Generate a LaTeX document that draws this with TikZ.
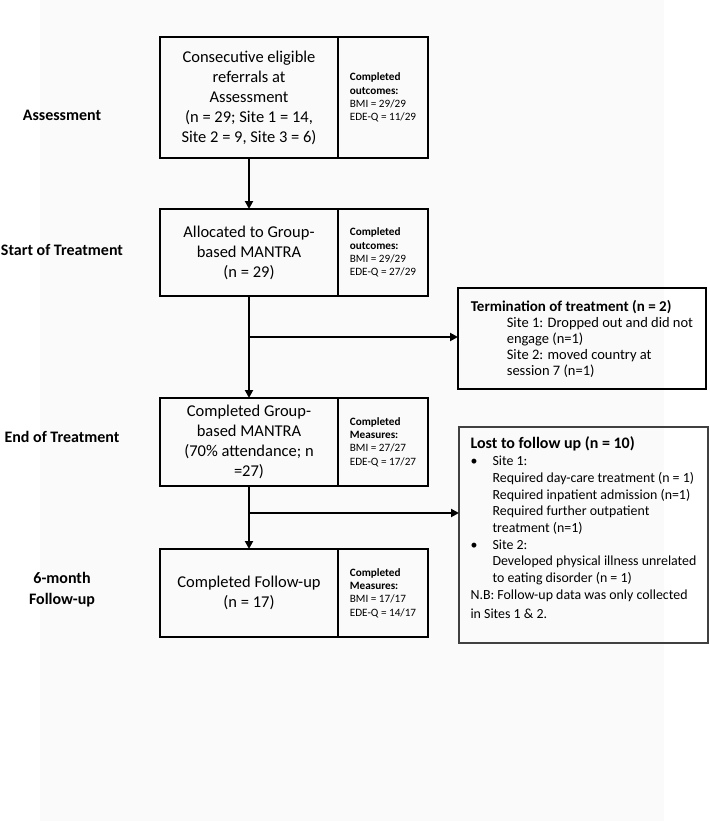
\documentclass[tikz,border=0pt]{standalone}
\usepackage{fontspec}
\setmainfont{Carlito}
\usetikzlibrary{positioning}
\usetikzlibrary{arrows.meta}
\definecolor{bggray}{HTML}{FAFAFA}
\newcommand{\ind}{\hspace*{36pt}}
\newcommand{\sub}{\hspace*{22pt}}
\newcommand{\bul}{\makebox[22pt][l]{\textbullet}}

\begin{document}
\begin{tikzpicture}[x=1pt,y=-1pt,>={Triangle[length=8pt,width=8pt]},
		stage/.style={rectangle,draw=black,line width=2.5pt,inner sep=3pt,outer sep=0pt,minimum width=178pt,align=center,font=\fontsize{16.5}{20}\selectfont},
		outc/.style={rectangle,draw=black,line width=2.5pt,inner sep=3pt,outer sep=0pt,minimum width=90pt,align=left,font=\fontsize{11.2}{13.3}\selectfont},
		phase/.style={align=center,font=\bfseries\fontsize{16}{21}\selectfont},
		flow/.style={line width=2.5pt}]
		\useasboundingbox (0,0) rectangle (709,821);
		\fill[bggray] (40,0) rectangle (664,821);
		
		\node[phase]  (p-assess)  at (62,115)  {Assessment};
		\node[phase]  (p-start)   at (62,250)  {Start of Treatment};
		\node[phase]  (p-end)     at (62,437)  {End of Treatment};
		\node[phase]  (p-follow)  at (62,590)  {6-month\\Follow-up};
		
		\node[stage,minimum height=121pt] (assess) at (249,97.5)
		{Consecutive eligible\\referrals at\\Assessment\\(n = 29; Site 1 = 14,\\Site 2 = 9, Site 3 = 6)};
		\node[outc,minimum height=121pt] (assess-out) [right=0pt of assess]
		{\textbf{Completed}\\\textbf{outcomes:}\\BMI = 29/29\\EDE-Q = 11/29};
		
		\node[stage,minimum height=87pt] (alloc) at (249,252.5)
		{Allocated to Group-\\based MANTRA\\(n = 29)};
		\node[outc,minimum height=87pt] (alloc-out) [right=0pt of alloc]
		{\textbf{Completed}\\\textbf{outcomes:}\\BMI = 29/29\\EDE-Q = 27/29};
		
		\node[stage,minimum height=88pt] (endt) at (249,442)
		{Completed Group-\\based MANTRA\\(70\% attendance; n\\=27)};
		\node[outc,minimum height=88pt] (endt-out) [right=0pt of endt]
		{\textbf{Completed}\\\textbf{Measures:}\\BMI = 27/27\\EDE-Q = 17/27};
		
		\node[stage,minimum height=88pt] (follow) at (249,593)
		{Completed Follow-up\\(n = 17)};
		\node[outc,minimum height=88pt] (follow-out) [right=0pt of follow]
		{\textbf{Completed}\\\textbf{Measures:}\\BMI = 17/17\\EDE-Q = 14/17};
		
		\node[rectangle,draw=black,line width=2.5pt,outer sep=0pt,minimum width=248pt,minimum height=101pt,align=left,font=\fontsize{14.5}{16}\selectfont]
		(term) at (582,338.5)
		{\textbf{\fontsize{15}{16}\selectfont Termination of treatment (n = 2)}\\
			\ind Site 1: Dropped out and did not\\
			\ind engage (n=1)\\
			\ind Site 2: moved country at\\
			\ind session 7 (n=1)};
		
		\node[rectangle,draw=black!75,line width=1.2pt,outer sep=0pt,minimum width=249pt,minimum height=216pt,align=left,font=\fontsize{13.9}{16.7}\selectfont]
		(lost) at (583.5,535)
		{\textbf{\fontsize{16}{18}\selectfont Lost to follow up (n = 10)}\\
			\bul Site 1:\\
			\sub Required day-care treatment (n = 1)\\
			\sub Required inpatient admission (n=1)\\
			\sub Required further outpatient\\
			\sub treatment (n=1)\\
			\bul Site 2:\\
			\sub Developed physical illness unrelated\\
			\sub to eating disorder (n = 1)\\
			N.B: Follow-up data was only collected\\[3pt]
			in Sites 1 \& 2.\\[-2.7pt]\mbox{}};
		
		\coordinate (split1) at (249,337);
		\coordinate (split2) at (249,513);
		
		\draw[flow,->] (assess) -- (alloc);
		\draw[flow,->] (alloc) -- (endt);
		\draw[flow,->] (split1) -- (split1 -| term.west);
		\draw[flow,->] (endt) -- (follow);
		\draw[flow,->] (split2) -- (split2 -| lost.west);
\end{tikzpicture}
\end{document}
